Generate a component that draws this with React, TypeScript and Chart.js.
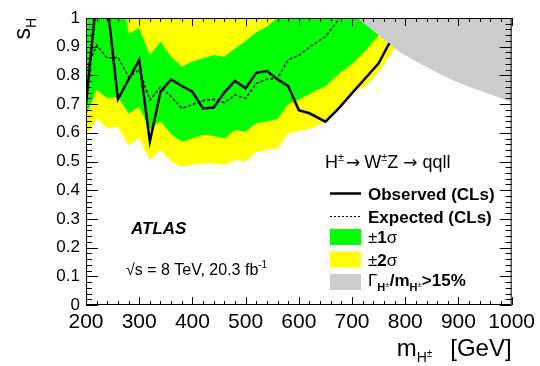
import React, { useEffect, useRef } from 'react';
import { Chart, registerables } from 'chart.js';
Chart.register(...registerables);

// ---- data ----
const bandMass = [200, 220, 240, 260, 280, 300, 320, 340, 360, 380, 400, 420, 440, 460, 480, 500, 520, 540, 560, 580, 600, 625, 650, 675, 700, 725, 750, 775, 800];
const sigma2Low = [0.586, 0.65, 0.616, 0.621, 0.557, 0.581, 0.505, 0.54, 0.5, 0.482, 0.488, 0.494, 0.494, 0.488, 0.505, 0.5, 0.532, 0.54, 0.545, 0.598, 0.605, 0.615, 0.64, 0.685, 0.745, 0.76, 0.81, 0.88, 0.93];
const sigma2High = [1.3, 3.2, 1.6, 1.5, 1.4, 1.4, 1.3, 1.3, 1.3, 1.25, 1.25, 1.25, 1.25, 1.25, 1.3, 1.3, 1.3, 1.35, 1.4, 1.45, 1.5, 1.55, 1.6, 1.7, 1.75, 1.8, 1.85, 1.9, 1.95];
const sigma1Low = [0.66, 0.75, 0.72, 0.726, 0.667, 0.69, 0.612, 0.64, 0.595, 0.569, 0.58, 0.592, 0.589, 0.58, 0.61, 0.604, 0.633, 0.639, 0.648, 0.7, 0.715, 0.74, 0.762, 0.805, 0.84, 0.885, 0.94, 0.99, 1.04];
const sigma1High = [0.72, 3.0, 1.25, 1.2, 0.946, 0.964, 0.871, 0.917, 0.865, 0.83, 0.848, 0.86, 0.871, 0.865, 0.894, 0.92, 0.95, 0.97, 1.0, 1.08, 1.12, 1.18, 1.22, 1.3, 1.35, 1.4, 1.45, 1.5, 1.55];

const expMass = [200, 220, 240, 260, 280, 300, 320, 340, 360, 380, 400, 420, 440, 460, 480, 500, 520, 540, 560, 580, 600, 625, 650, 675, 700];
const expLimit = [0.82, 0.905, 0.86, 0.863, 0.795, 0.819, 0.714, 0.76, 0.726, 0.685, 0.699, 0.712, 0.717, 0.705, 0.732, 0.72, 0.772, 0.787, 0.79, 0.854, 0.87, 0.905, 0.935, 0.995, 1.06];

const obsMass = [200, 220, 240, 260, 300, 320, 340, 360, 380, 400, 420, 440, 460, 480, 500, 520, 540, 560, 580, 600, 620, 650, 675, 700, 725, 750, 770];
const obsLimit = [0.7, 1.075, 1.05, 0.717, 0.854, 0.569, 0.743, 0.786, 0.763, 0.743, 0.685, 0.688, 0.74, 0.781, 0.755, 0.809, 0.815, 0.786, 0.763, 0.679, 0.668, 0.639, 0.685, 0.738, 0.79, 0.842, 0.912];

const widthMass = [710, 750, 780, 800, 850, 900, 950, 1000];
const widthLimit = [1.0, 0.94, 0.895, 0.87, 0.82, 0.775, 0.74, 0.707];

const xTickStep = 100;
const yTickStep = 0.1;

const FONT = "'Liberation Sans', Arial, Helvetica, sans-serif";
const SYM = "'DejaVu Sans', 'Liberation Sans', sans-serif";
const GREEN = '#00ff00';
const YELLOW = '#ffff00';
const GRAY = '#cccccc';

const pts = (xs: number[], ys: number[]) => xs.map((x, i) => ({ x, y: ys[i] }));

type Part = { t: string; size: number; bold?: boolean; italic?: boolean; dy?: number; dx?: number; sym?: boolean };

function setFont(ctx: CanvasRenderingContext2D, p: Part) {
  ctx.font = `${p.italic ? 'italic ' : ''}${p.bold ? 'bold ' : ''}${p.size}px ${p.sym ? SYM : FONT}`;
}

function partsWidth(ctx: CanvasRenderingContext2D, parts: Part[]) {
  let w = 0;
  for (const p of parts) {
    setFont(ctx, p);
    w += ctx.measureText(p.t).width + (p.dx || 0);
  }
  return w;
}

function drawRich(ctx: CanvasRenderingContext2D, x: number, y: number, parts: Part[]) {
  let cx = x;
  ctx.textAlign = 'left';
  ctx.textBaseline = 'alphabetic';
  for (const p of parts) {
    setFont(ctx, p);
    ctx.fillText(p.t, cx, y + (p.dy || 0));
    cx += ctx.measureText(p.t).width + (p.dx || 0);
  }
  return cx;
}

const decorPlugin = {
  id: 'decor',
  afterDatasetsDraw(chart: any) {
    const { ctx, chartArea: a, scales } = chart;
    const xs = scales.x;
    const ys = scales.y;
    ctx.save();
    ctx.strokeStyle = '#000';
    ctx.fillStyle = '#000';
    ctx.lineWidth = 1;
    // frame
    ctx.strokeRect(a.left + 0.5, a.top + 0.5, a.right - a.left - 1, a.bottom - a.top - 1);
    // ticks on all four sides, pointing inwards
    ctx.beginPath();
    for (let v = 200; v <= 1000; v += 20) {
      const px = Math.round(xs.getPixelForValue(v)) + 0.5;
      const len = v % 100 === 0 ? 8 : 4;
      ctx.moveTo(px, a.bottom);
      ctx.lineTo(px, a.bottom - len);
      ctx.moveTo(px, a.top);
      ctx.lineTo(px, a.top + len);
    }
    for (let i = 0; i <= 50; i++) {
      const py = Math.round(ys.getPixelForValue(i / 50)) + 0.5;
      const len = i % 5 === 0 ? 12 : 6;
      ctx.moveTo(a.left, py);
      ctx.lineTo(a.left + len, py);
      ctx.moveTo(a.right, py);
      ctx.lineTo(a.right - len, py);
    }
    ctx.stroke();

    // process label
    drawRich(ctx, 325, 168, [
      { t: 'H', size: 18 },
      { t: '±', size: 11, dy: -7, dx: 2 },
      { t: '→', size: 17, sym: true, dx: 4 },
      { t: 'W', size: 18 },
      { t: '±', size: 11, dy: -7 },
      { t: 'Z', size: 18, dx: 5 },
      { t: '→', size: 17, sym: true, dx: 5 },
      { t: 'qqll', size: 18 },
    ]);

    // legend
    const lx0 = 330, lx1 = 361;
    ctx.lineWidth = 2.5;
    ctx.beginPath();
    ctx.moveTo(lx0, 193.5);
    ctx.lineTo(lx1, 193.5);
    ctx.stroke();
    ctx.lineWidth = 1;
    ctx.setLineDash([2, 2]);
    ctx.beginPath();
    ctx.moveTo(lx0, 216.5);
    ctx.lineTo(lx1, 216.5);
    ctx.stroke();
    ctx.setLineDash([]);
    drawRich(ctx, 368, 199.5, [{ t: 'Observed (CLs)', size: 17, bold: true }]);
    drawRich(ctx, 368, 222.5, [{ t: 'Expected (CLs)', size: 17, bold: true }]);
    ctx.fillStyle = GREEN;
    ctx.fillRect(lx0, 229, lx1 - lx0, 16);
    ctx.fillStyle = YELLOW;
    ctx.fillRect(lx0, 251.5, lx1 - lx0, 16);
    ctx.fillStyle = GRAY;
    ctx.fillRect(lx0, 274, lx1 - lx0, 16);
    ctx.fillStyle = '#000';
    drawRich(ctx, 368, 243, [
      { t: '±', size: 17 },
      { t: '1', size: 17, bold: true },
      { t: 'σ', size: 17 },
    ]);
    drawRich(ctx, 368, 265.5, [
      { t: '±', size: 17 },
      { t: '2', size: 17, bold: true },
      { t: 'σ', size: 17 },
    ]);
    drawRich(ctx, 368, 286, [
      { t: 'Γ', size: 17 },
      { t: 'H', size: 11, bold: true, dy: 5 },
      { t: '±', size: 8, dy: 1 },
      { t: '/m', size: 17, bold: true },
      { t: 'H', size: 11, bold: true, dy: 5 },
      { t: '±', size: 8, dy: 1 },
      { t: '>15%', size: 17, bold: true },
    ]);

    // ATLAS + energy
    drawRich(ctx, 131, 234, [{ t: 'ATLAS', size: 17, bold: true, italic: true }]);
    drawRich(ctx, 126, 275, [
      { t: '√s = 8 TeV, 20.3 fb', size: 16 },
      { t: '-1', size: 10, dy: -7 },
    ]);

    // x title (right aligned at frame end)
    const xt: Part[] = [
      { t: 'm', size: 24 },
      { t: 'H', size: 14, dy: 6 },
      { t: '±', size: 10, dy: 1, dx: 18 },
      { t: '[GeV]', size: 24 },
    ];
    const w = partsWidth(ctx, xt);
    drawRich(ctx, a.right - w, 356, xt);

    // y title rotated
    ctx.save();
    ctx.translate(30, 18);
    ctx.rotate(-Math.PI / 2);
    const yt: Part[] = [
      { t: 's', size: 23 },
      { t: 'H', size: 14, dy: 6 },
    ];
    const wy = partsWidth(ctx, yt);
    drawRich(ctx, -wy, 0, yt);
    ctx.restore();

    ctx.restore();
  },
};

export default function App() {
  const ref = useRef<HTMLCanvasElement | null>(null);
  useEffect(() => {
    if (!ref.current) return;
    const chart = new Chart(ref.current, {
      type: 'line',
      data: {
        datasets: [
          { label: 'y2lo', data: pts(bandMass, sigma2Low), borderWidth: 0, pointRadius: 0, fill: false, order: 10, clip: 0 } as any,
          { label: 'y2hi', data: pts(bandMass, sigma2High), borderWidth: 0, pointRadius: 0, fill: 0, backgroundColor: YELLOW, order: 9, clip: 0 } as any,
          { label: 'g1lo', data: pts(bandMass, sigma1Low), borderWidth: 0, pointRadius: 0, fill: false, order: 8, clip: 0 } as any,
          { label: 'g1hi', data: pts(bandMass, sigma1High), borderWidth: 0, pointRadius: 0, fill: 2, backgroundColor: GREEN, order: 7, clip: 0 } as any,
          { label: 'width', data: pts(widthMass, widthLimit), borderWidth: 0, pointRadius: 0, fill: 'end', backgroundColor: GRAY, tension: 0.3, order: 6, clip: 0 } as any,
          { label: 'Expected', data: pts(expMass, expLimit), borderColor: '#000', borderWidth: 1.5, borderDash: [3, 2], pointRadius: 0, fill: false, order: 2, clip: 0 } as any,
          { label: 'Observed', data: pts(obsMass, obsLimit), borderColor: '#000', borderWidth: 2.5, pointRadius: 0, fill: false, order: 1, clip: 0 } as any,
        ],
      },
      options: {
        animation: false,
        responsive: false,
        devicePixelRatio: 1,
        layout: { padding: { left: 0, top: 18, right: 27, bottom: 0 } },
        plugins: { legend: { display: false }, tooltip: { enabled: false } },
        elements: { line: { tension: 0 } },
        scales: {
          x: {
            type: 'linear',
            min: 200,
            max: 1000,
            grid: { display: false, drawTicks: false },
            border: { display: false },
            ticks: {
              stepSize: xTickStep,
              autoSkip: false,
              color: '#000',
              padding: 5,
              font: { family: FONT, size: 21 },
              maxRotation: 0,
              callback: (v: any) => String(Math.round(Number(v))),
            },
            afterFit: (s: any) => { s.height = 61; },
          },
          y: {
            type: 'linear',
            min: 0,
            max: 1,
            grid: { display: false, drawTicks: false },
            border: { display: false },
            ticks: {
              stepSize: yTickStep,
              autoSkip: false,
              color: '#000',
              padding: 6,
              font: { family: FONT, size: 17 },
              callback: (v: any) => Number(v).toFixed(1).replace(/\.0$/, ''),
            },
            afterFit: (s: any) => { s.width = 86; },
          },
        },
      },
      plugins: [decorPlugin],
    } as any);
    return () => chart.destroy();
  }, []);
  return (
    <div style={{ position: 'fixed', left: 0, top: 0, width: 540, height: 366, background: '#fff' }}>
      <canvas ref={ref} width={540} height={366} style={{ width: 540, height: 366 }} />
    </div>
  );
}
